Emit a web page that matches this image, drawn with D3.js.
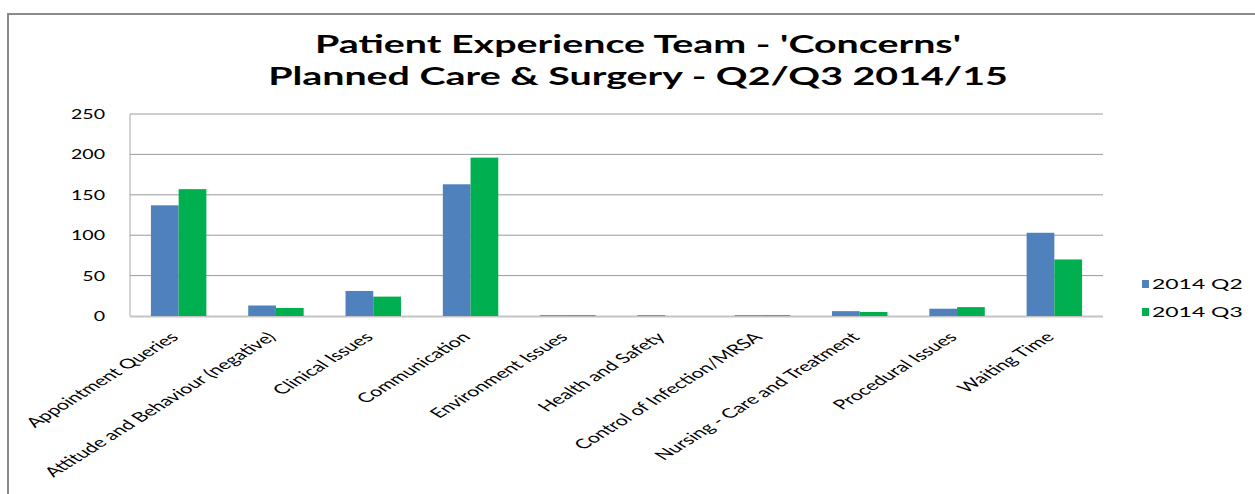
<!DOCTYPE html>
<html>
<head>
<meta charset="utf-8">
<script src="https://cdn.jsdelivr.net/npm/d3@7"></script>
<style>
  body { margin: 0; background: #fff; }
  text { font-family: Lato, "Open Sans", sans-serif; fill: #000; }
</style>
</head>
<body>
<svg id="chart" width="1255" height="494"></svg>
<script>
// chart values
let categories = ['Appointment Queries', 'Attitude and Behaviour (negative)', 'Clinical Issues',
                  'Communication', 'Environment Issues', 'Health and Safety',
                  'Control of Infection/MRSA', 'Nursing - Care and Treatment',
                  'Procedural Issues', 'Waiting Time'];
let seriesNames = ['2014 Q2', '2014 Q3'];
let q2Values = [137, 13, 31, 163, 1, 1, 1, 6, 9, 103];
let q3Values = [157, 10, 24, 196, 1, 0, 1, 5, 11, 70];
let yTicks = [0, 50, 100, 150, 200, 250];
let titleLines = ["Patient Experience Team - 'Concerns'", 'Planned Care & Surgery - Q2/Q3 2014/15'];

let colors = {'2014 Q2': '#4F81BD', '2014 Q3': '#00B050'};
// the picture is stretched sideways, so text gets a horizontal scale
let labelScale = 1.6, tickScale = 1.45, legendScale = 1.7;

let svg = d3.select('#chart');

// outer frame
svg.append('rect')
    .attr('x', 8).attr('y', 14)
    .attr('width', 1270).attr('height', 500)
    .attr('fill', 'none')
    .attr('stroke', '#8a8a8a')
    .attr('stroke-width', 2);

let plot = {left: 130, right: 1103, top: 114, bottom: 316};

let x = d3.scaleBand()
    .domain(categories)
    .range([plot.left, plot.right])
    .paddingInner(0.43)
    .paddingOuter(0.215);

let x1 = d3.scaleBand()
    .domain(seriesNames)
    .range([0, x.bandwidth()]);

let y = d3.scaleLinear()
    .domain([0, 250])
    .range([plot.bottom, plot.top]);

// gridlines
svg.selectAll('.grid')
    .data(yTicks.filter(function (d) { return d > 0; }))
    .enter().append('line')
    .attr('class', 'grid')
    .attr('x1', plot.left).attr('x2', plot.right)
    .attr('y1', function (d) { return y(d); })
    .attr('y2', function (d) { return y(d); })
    .attr('stroke', '#9a9a9a')
    .attr('stroke-width', 1);

// left axis line
svg.append('line')
    .attr('x1', plot.left).attr('x2', plot.left)
    .attr('y1', plot.top).attr('y2', plot.bottom)
    .attr('stroke', '#a6a6a6')
    .attr('stroke-width', 1);

// baseline, drawn under the bars so the tiny ones still show
svg.append('line')
    .attr('x1', plot.left).attr('x2', plot.right)
    .attr('y1', plot.bottom + 0.5).attr('y2', plot.bottom + 0.5)
    .attr('stroke', '#c4c4c4')
    .attr('stroke-width', 2);

// bars
let rows = categories.map(function (c, i) {
    return {cat: c, values: [{name: '2014 Q2', v: q2Values[i]}, {name: '2014 Q3', v: q3Values[i]}]};
});

let groups = svg.selectAll('.group')
    .data(rows)
    .enter().append('g')
    .attr('class', 'group')
    .attr('transform', function (d) { return 'translate(' + x(d.cat) + ',0)'; });

groups.selectAll('rect')
    .data(function (d) { return d.values; })
    .enter().append('rect')
    .attr('x', function (d) { return x1(d.name); })
    .attr('y', function (d) { return y(d.v); })
    .attr('width', x1.bandwidth())
    .attr('height', function (d) { return y(0) - y(d.v); })
    .attr('fill', function (d) { return colors[d.name]; });

// y tick labels
svg.selectAll('.ytick')
    .data(yTicks)
    .enter().append('text')
    .attr('class', 'ytick')
    .attr('transform', function (d) { return 'translate(105,' + (y(d) + 5) + ') scale(' + tickScale + ',1)'; })
    .attr('text-anchor', 'end')
    .attr('font-size', 13.5)
    .text(function (d) { return d; });

// category labels
svg.selectAll('.xlabel')
    .data(categories)
    .enter().append('text')
    .attr('class', 'xlabel')
    .attr('transform', function (d) {
        let cx = x(d) + x.bandwidth() / 2;
        return 'translate(' + (cx + 1) + ',338) scale(' + labelScale + ',1) rotate(-45)';
    })
    .attr('text-anchor', 'end')
    .attr('font-size', 13.5)
    .text(function (d) { return d; });

// legend
let legend = svg.selectAll('.legend')
    .data(seriesNames)
    .enter().append('g')
    .attr('class', 'legend')
    .attr('transform', function (d, i) { return 'translate(1142,' + (284 + i * 28) + ')'; });

legend.append('rect')
    .attr('x', 0).attr('y', -4)
    .attr('width', 7).attr('height', 8)
    .attr('fill', function (d) { return colors[d]; });

legend.append('text')
    .attr('transform', 'translate(10,5) scale(' + legendScale + ',1)')
    .attr('font-size', 13.5)
    .text(function (d) { return d; });

// title
let title = svg.selectAll('.title')
    .data(titleLines)
    .enter().append('text')
    .attr('class', 'title')
    .attr('text-anchor', 'middle')
    .attr('font-size', 24)
    .attr('font-weight', 'bold')
    .text(function (d) { return d; });

let titleScale = 740 / title.nodes()[1].getComputedTextLength();
title.attr('transform', function (d, i) {
    return 'translate(638,' + (53 + i * 32) + ') scale(' + titleScale + ',1)';
});
</script>
</body>
</html>
